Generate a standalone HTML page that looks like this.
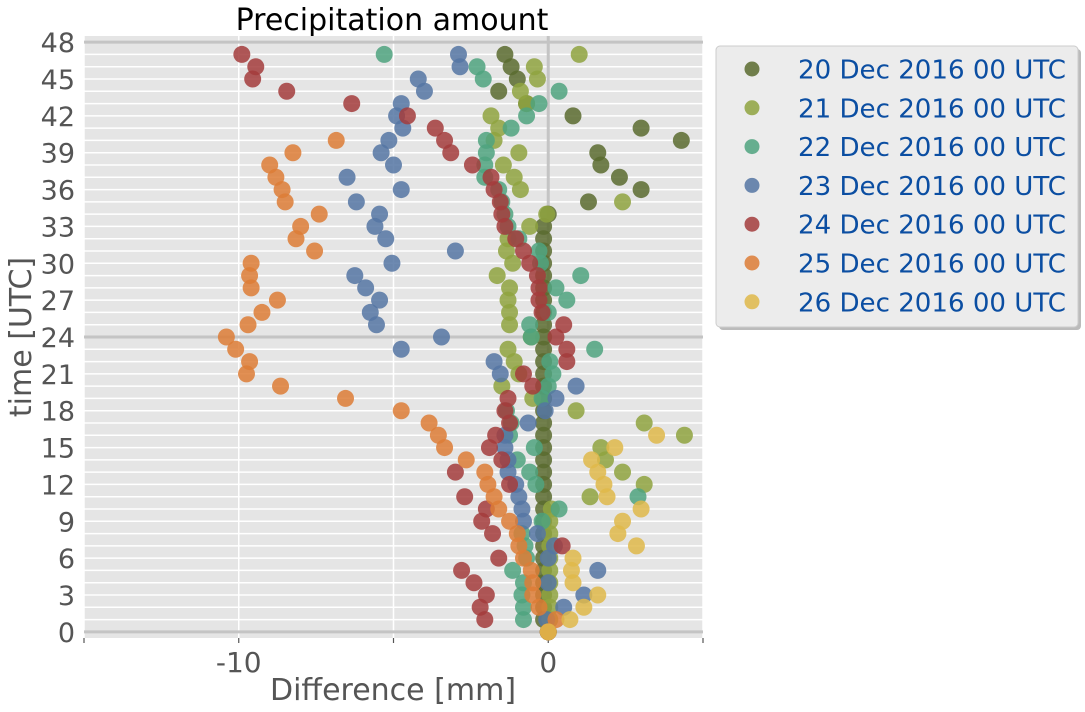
<!DOCTYPE html>
<html><head><meta charset="utf-8">
<style>
body{margin:0;background:#fff;}
svg{display:block;font-family:"DejaVu Sans","Liberation Sans",sans-serif;}
</style></head>
<body>
<svg id="chart" width="1085" height="712" viewBox="0 0 1085 712">
  <text x="392" y="30" font-size="30" text-anchor="middle" fill="#000">Precipitation amount</text>
  <rect x="84" y="36" width="619" height="602" fill="#e5e5e5"/>
  <g id="grid"></g>
  <g id="axes"></g>
  <g id="points"></g>
  <text x="393" y="700" font-size="30" text-anchor="middle" fill="#555">Difference [mm]</text>
  <text transform="translate(31,337) rotate(-90)" font-size="30" text-anchor="middle" fill="#555">time [UTC]</text>
  <g>
    <rect x="719" y="49" width="362" height="281" rx="4" fill="#bbb"/>
    <rect x="716" y="46" width="362" height="281" rx="4" fill="#ececec" stroke="#ccc"/>
    <g id="legend-entries"></g>
  </g>
</svg>
<script>
const hours = [];
for (let h = 0; h <= 47; h++) hours.push(h);
const seriesLabels = ["20 Dec 2016 00 UTC","21 Dec 2016 00 UTC","22 Dec 2016 00 UTC","23 Dec 2016 00 UTC","24 Dec 2016 00 UTC","25 Dec 2016 00 UTC","26 Dec 2016 00 UTC"];
const seriesColors = ["#5b6b2f","#8fa33f","#4fa37f","#5576a3","#a33c3c","#dd7d36","#dfb84a"];
// values indexed by hour 0..47 (null = no data)
const s20 = [0,-0.15,-0.15,-0.15,-0.15,-0.15,-0.15,-0.15,-0.15,-0.15,-0.15,-0.15,-0.15,-0.15,-0.15,-0.15,-0.15,-0.15,-0.15,-0.15,-0.15,-0.15,-0.15,-0.15,-0.15,-0.15,-0.15,-0.15,-0.15,-0.15,-0.15,-0.15,-0.15,-0.15,0.0,1.3,3.0,2.3,1.7,1.6,4.3,3.0,0.8,-0.7,-1.6,-1.0,-1.2,-1.4];
const s21 = [0,0.05,0.05,0.05,0.05,0.05,0.05,0.05,0.05,0.05,0.1,1.35,3.1,2.4,1.85,1.7,4.4,3.1,0.9,-0.5,-1.5,-0.95,-1.1,-1.3,-0.55,-1.25,-1.25,-1.3,-1.25,-1.65,-1.15,-1.35,-1.3,-0.6,-0.05,2.4,-0.9,-1.1,-1.45,-0.95,-1.75,-1.6,-1.85,-0.7,-0.9,-0.35,-0.45,1.0];
const s22 = [0,-0.8,-0.8,-0.85,-0.8,-1.15,-0.7,-0.75,-0.85,-0.2,0.35,2.9,-0.4,-0.6,-1.0,-0.45,-1.25,-1.2,-1.35,-0.2,0.0,0.15,0.05,1.5,-0.55,-0.6,0.0,0.6,0.25,1.05,-0.25,-0.3,-0.95,-1.3,-1.4,-1.5,-1.6,-2.05,-2.05,-2.0,-2.0,-1.2,-0.7,-0.3,0.35,-2.1,-2.3,-5.3];
const s23 = [0,-0.05,0.5,1.15,0.0,1.6,0.0,0.2,-0.35,-0.8,-0.85,-0.95,-1.05,-1.3,-1.3,-1.4,-1.4,-0.65,-0.1,0.25,0.9,-1.55,-1.75,-4.75,-3.45,-5.55,-5.75,-5.45,-5.9,-6.25,-5.05,-3.0,-5.25,-5.6,-5.45,-6.2,-4.75,-6.5,-5.0,-5.4,-5.15,-4.7,-4.9,-4.75,-4.0,-4.2,-2.85,-2.9];
const s24 = [0,-2.05,-2.2,-2.0,-2.4,-2.8,-1.6,0.45,-1.8,-2.15,-2.0,-2.7,-1.25,-3.0,-1.5,-1.9,-1.7,-1.25,-1.4,-1.3,-0.5,-0.8,0.6,0.6,0.25,0.5,-0.2,-0.3,-0.3,-0.35,-0.6,-0.8,-1.05,-1.4,-1.5,-1.55,-1.75,-1.85,-2.45,-3.15,-3.35,-3.65,-4.55,-6.35,-8.45,-9.55,-9.45,-9.9];
const s25 = [0,0.25,-0.3,-0.5,-0.5,-0.55,-0.8,-0.95,-1.0,-1.25,-1.6,-1.75,-1.95,-2.05,-2.65,-3.35,-3.55,-3.85,-4.75,-6.55,-8.65,-9.75,-9.65,-10.1,-10.4,-9.7,-9.25,-8.75,-9.6,-9.65,-9.6,-7.55,-8.15,-8.0,-7.4,-8.5,-8.6,-8.8,-9.0,-8.25,-6.85,null,null,null,null,null,null,null];
const s26 = [0,0.7,1.15,1.6,0.8,0.75,0.8,2.85,2.25,2.4,3.0,1.9,1.8,1.6,1.4,2.15,3.5,null,null,null,null,null,null,null,null,null,null,null,null,null,null,null,null,null,null,null,null,null,null,null,null,null,null,null,null,null,null,null];
const seriesValues = [s20,s21,s22,s23,s24,s25,s26];
const xTicks = [-15,-10,-5,0,5];
const xTickLabels = ["","-10","","0",""];
const yTicks = [0,3,6,9,12,15,18,21,24,27,30,33,36,39,42,45,48];

const NS = "http://www.w3.org/2000/svg";
const X0 = 84, X1 = 703, XMIN = -15, XMAX = 5;
const Y0 = 638, Y1 = 36, YMIN = -0.5, YMAX = 48.5;
function xs(v){ return X0 + (v - XMIN) / (XMAX - XMIN) * (X1 - X0); }
function ys(v){ return Y0 - (v - YMIN) / (YMAX - YMIN) * (Y0 - Y1); }
function mk(tag, attrs, parent){ const e = document.createElementNS(NS, tag); for (const k in attrs) e.setAttribute(k, attrs[k]); parent.appendChild(e); return e; }

const grid = document.getElementById('grid');
for (let h = 0; h <= 48; h++) {
  const l = mk('line', {x1:X0, x2:X1, y1:ys(h), y2:ys(h), stroke:'#fff', 'stroke-width':1.5}, grid);
  
  
}
xTicks.forEach(t => {
  const l = mk('line', {x1:xs(t), x2:xs(t), y1:Y1, y2:Y0, stroke:'#fff', 'stroke-width':1.5}, grid);
  
  
});
[0,24,48].forEach(h => {
  const l = mk('line', {x1:X0, x2:X1, y1:ys(h), y2:ys(h), stroke:'#c4c4c4', 'stroke-width':3}, grid);
  
  
});
const vz = mk('line', {x1:xs(0), x2:xs(0), y1:Y1, y2:Y0, stroke:'#c4c4c4', 'stroke-width':3}, grid);



const axes = document.getElementById('axes');
xTicks.forEach((t, i) => {
  const tk = mk('line', {x1:xs(t), x2:xs(t), y1:Y0, y2:Y0 + 5, stroke:'#555', 'stroke-width':1.2}, axes);
  
  
  if (xTickLabels[i]) {
    const tx = mk('text', {x:xs(t), y:672, 'font-size':28, 'text-anchor':'middle', fill:'#555'}, axes);
    tx.textContent = xTickLabels[i];
    
    
  }
});
yTicks.forEach(t => {
  const tx = mk('text', {x:75, y:ys(t) + 10, 'font-size':27, 'text-anchor':'end', fill:'#555'}, axes);
  tx.textContent = String(t);
  
  
});

const pts = document.getElementById('points');
seriesValues.forEach((vals, si) => {
  const g = mk('g', {}, pts);
  
  
  vals.forEach((v, hi) => {
    if (v === null) return;
    const c = mk('circle', {cx:xs(v), cy:ys(hours[hi]), r:8.5, fill:seriesColors[si], 'fill-opacity':0.85}, g);
    
    
  });
});

const le = document.getElementById('legend-entries');
seriesLabels.forEach((lab, i) => {
  const y = 69 + i * 38.8;
  const c = mk('circle', {cx:752, cy:y, r:7.5, fill:seriesColors[i], 'fill-opacity':0.85}, le);
  
  
  const t = mk('text', {x:798, y:y + 9.5, 'font-size':26, fill:'#0b4ea2', textLength:268, lengthAdjust:'spacingAndGlyphs'}, le);
  t.textContent = lab;
  
  
});
</script>
</body></html>
